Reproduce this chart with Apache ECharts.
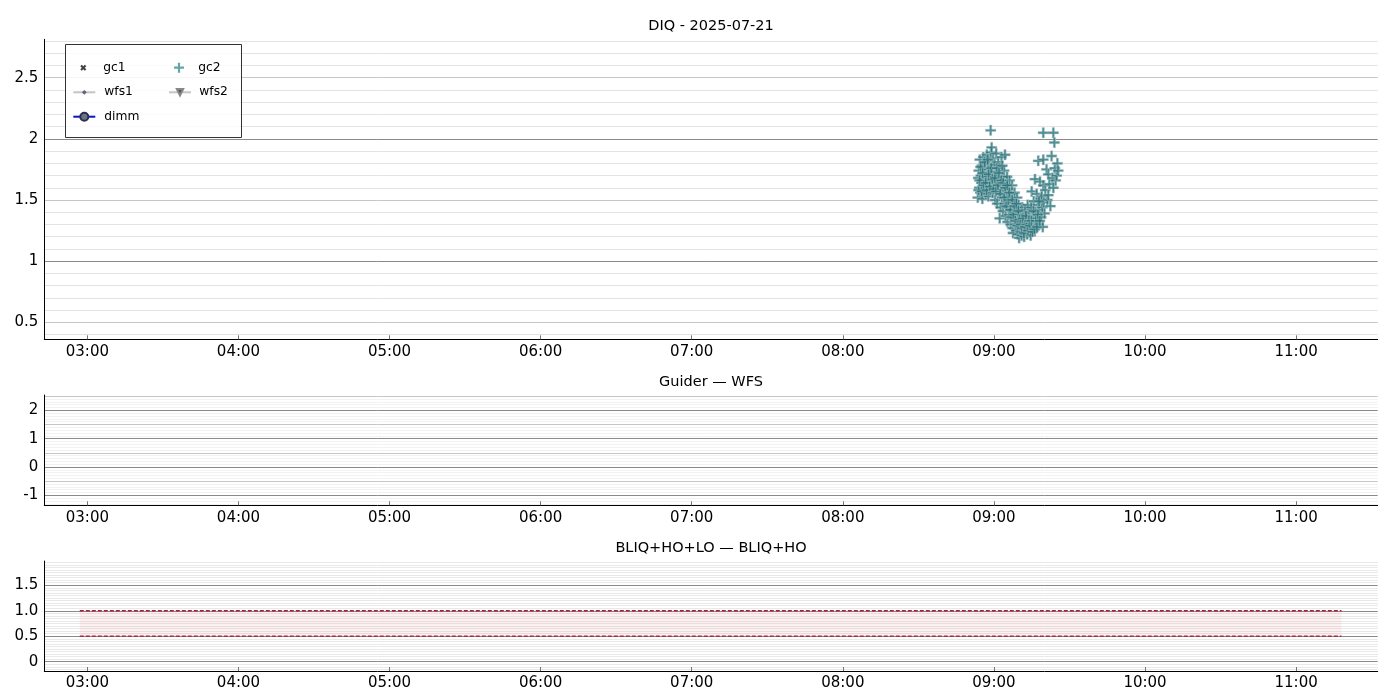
<!DOCTYPE html>
<html><head><meta charset="utf-8">
<script src="https://cdn.jsdelivr.net/npm/echarts@6/dist/echarts.min.js"></script>
<style>html,body{margin:0;padding:0;background:#fff}#c{width:1400px;height:700px}</style>
</head><body><div id="c"></div>
<script>
// ---------- data ----------
const titles = ['DIQ - 2025-07-21', 'Guider \u2014 WFS', 'BLIQ+HO+LO \u2014 BLIQ+HO'];
const legendNames = ['gc1', 'gc2', 'wfs1', 'wfs2', 'dimm'];
// x axis: minutes since 00:00 UTC
const hourTicks = [180, 240, 300, 360, 420, 480, 540, 600, 660];
const topYLabels = [0.5, 1, 1.5, 2, 2.5];
const midYLabels = [-1, 0, 1, 2];
const botYLabels = [0, 0.5, 1.0, 1.5];
// gc2 seeing samples: time (minutes since 00:00) and value (arcsec)
const gc2Time = [
 533.6,533.8,534.0,534.2,534.4,534.6,534.8,535.0,535.2,535.4,535.6,535.8,536.0,536.2,536.4,
 536.6,536.8,537.0,537.2,537.4,537.6,537.8,538.0,538.2,538.4,538.6,538.7,538.8,539.0,539.1,539.3,539.5,539.7,539.9,
 540.1,540.3,540.5,540.7,540.9,541.1,541.3,541.5,541.7,541.9,542.1,542.3,542.4,542.6,542.8,543.0,543.2,543.4,
 543.6,543.8,544.0,544.2,544.4,544.6,544.8,545.0,545.2,545.4,545.6,545.8,546.0,546.2,546.4,546.6,546.8,
 547.0,547.2,547.4,547.6,547.8,548.0,548.2,548.4,548.6,548.8,549.0,549.2,549.4,549.6,549.8,550.0,550.2,550.4,
 550.6,550.8,551.0,551.2,551.4,551.6,551.8,552.0,552.2,552.4,552.6,552.8,553.0,553.2,553.4,553.6,553.8,554.0,554.2,554.4,
 554.6,554.8,555.0,555.2,555.4,555.6,555.8,556.0,556.3,556.5,556.7,557.0,557.2,557.4,557.6,557.8,558.0,558.3,
 558.5,558.7,559.0,559.2,559.4,559.6,559.6,559.6,559.8,560.1,560.4,560.9,561.2,561.6,561.6,562.0,562.4,562.9,563.2,563.6,563.6,564.0,564.2,564.5,564.9,565.2,565.5,
 533.9,534.3,534.7,535.1,535.5,535.9,536.3,
 536.7,537.1,537.5,537.9,538.3,538.9,539.4,539.8,
 540.4,540.8,541.2,541.6,542.0,542.5,542.9,543.3,
 543.7,544.1,544.5,544.9,545.3,545.7,546.1,546.5,546.9,
 547.3,547.7,548.1,548.5,548.9,549.3,549.7,550.1,
 550.7,551.1,551.5,551.9,552.3,552.7,553.1,553.5,553.9,554.3,
 554.9,555.3,555.7,556.1,556.6,557.1,557.5,557.9,558.2
];
const gc2Value = [
 1.52,1.68,1.74,1.60,1.83,1.56,1.70,1.64,1.78,1.51,1.67,1.85,1.59,1.73,1.63,
 1.80,1.55,1.69,1.87,1.61,1.75,1.53,1.82,1.66,1.72,1.58,2.07,1.89,1.64,1.93,1.77,1.56,1.84,1.69,
 1.60,1.79,1.50,1.73,1.88,1.63,1.47,1.70,1.81,1.56,1.66,1.35,1.76,1.44,1.61,1.85,1.52,1.69,
 1.41,1.58,1.74,1.47,1.87,1.37,1.63,1.53,1.69,1.32,1.44,1.59,1.38,1.66,1.49,1.30,1.55,
 1.42,1.62,1.27,1.23,1.48,1.35,1.56,1.30,1.44,1.25,1.39,1.52,1.22,1.33,1.46,1.19,1.28,1.40,
 1.24,1.35,1.21,1.44,1.30,1.26,1.38,1.20,1.32,1.42,1.25,1.29,1.36,1.22,1.46,1.31,1.27,1.40,1.24,1.34,
 1.21,1.44,1.57,1.29,1.37,1.25,1.49,1.32,1.67,1.40,1.27,1.55,1.35,1.46,1.82,1.30,1.42,1.65,
 1.51,1.36,1.53,1.44,1.28,2.05,1.83,1.62,1.48,1.39,1.58,1.75,1.50,1.71,1.54,1.63,1.45,1.86,1.68,2.05,1.60,1.97,1.76,1.66,1.70,1.80,1.74,
 1.58,1.66,1.77,1.57,1.72,1.62,1.81,
 1.64,1.58,1.83,1.71,1.61,1.76,1.67,1.59,
 1.68,1.57,1.76,1.62,1.72,1.55,1.66,1.78,
 1.64,1.52,1.60,1.45,1.62,1.50,1.56,1.42,1.36,
 1.50,1.38,1.45,1.33,1.47,1.29,1.41,1.34,
 1.30,1.27,1.35,1.23,1.28,1.37,1.30,1.25,1.33,1.29,
 1.33,1.24,1.41,1.26,1.33,1.28,1.38,1.49,1.33
];
// BLIQ band (requirement range) on the bottom panel
const bandTime = [177, 678];
const bandLow = 0.5;
const bandHigh = 1.0;

// ---------- layout / style ----------
const FONT = '"DejaVu Sans", sans-serif';
const X_MIN = 162.9, X_MAX = 692.4;
const PLOT_L = 44.3, PLOT_W = 1333.4;
const grids = [
  {left: PLOT_L, top: 39.3, width: PLOT_W, height: 300},
  {left: PLOT_L, top: 395, width: PLOT_W, height: 110.3},
  {left: PLOT_L, top: 561, width: PLOT_W, height: 110}
];
const yRanges = [[0.361, 2.814], [-1.353, 2.54], [-0.183, 1.977]];

function range(a, b, step) {
  const out = [];
  const n = Math.round((b - a) / step);
  for (let i = 0; i <= n; i++) out.push(+(a + i * step).toFixed(4));
  return out;
}
function notIn(list, excl) {
  return list.filter(v => !excl.some(e => Math.abs(e - v) < 1e-6));
}
const DARK = '#8a8a8a', MID = '#c6c6c6', LIGHT = '#e3e3e3', VLIGHT = '#f2f2f2', BLIGHT = '#e9e9e9';
function lines(vals, color) {
  return vals.map(v => ({yAxis: v, lineStyle: {color: color, width: 1, type: 'solid'}}));
}
const topGrid = [].concat(
  lines(notIn(range(0.4, 2.8, 0.1), range(0.5, 2.5, 0.5)), LIGHT),
  lines([0.5, 1.5, 2.5], MID),
  lines([1, 2], DARK));
const midGrid = [].concat(
  lines(notIn(range(-1.3, 2.5, 0.1), range(-1.0, 2.5, 0.5)), VLIGHT),
  lines([-0.5, 0.5, 1.5, 2.5], MID),
  lines([-1, 0, 1, 2], DARK));
const botGrid = [].concat(
  lines(notIn(range(-0.15, 1.95, 0.05), range(0, 1.5, 0.5)), BLIGHT),
  lines([0, 0.5, 1.0, 1.5], DARK));

function pad(n) { return (n < 10 ? '0' : '') + n; }
function hhmm(v) { const h = Math.floor(v / 60), m = Math.round(v - h * 60); return pad(h) + ':' + pad(m); }

const xAxes = grids.map((g, i) => ({
  type: 'value', gridIndex: i, min: X_MIN, max: X_MAX,
  axisLine: {show: true, onZero: false, lineStyle: {color: '#000', width: 1}},
  axisTick: {show: true, inside: true, length: 4, customValues: hourTicks, lineStyle: {color: '#777'}},
  axisLabel: {customValues: hourTicks, formatter: hhmm, color: '#000', fontSize: 15, fontFamily: FONT, margin: 5},
  splitLine: {show: false}, z: 6
}));
const yLabelSets = [topYLabels, midYLabels, botYLabels];
const yFormatters = [
  v => String(v),
  v => String(v),
  v => (Math.abs(v) < 1e-9 ? '0' : v.toFixed(1))
];
const yAxes = grids.map((g, i) => ({
  type: 'value', gridIndex: i, min: yRanges[i][0], max: yRanges[i][1],
  axisLine: {show: true, onZero: false, lineStyle: {color: '#000', width: 1}},
  axisTick: {show: false},
  axisLabel: {customValues: yLabelSets[i], formatter: yFormatters[i], color: '#000', fontSize: 15, fontFamily: FONT, margin: 6},
  splitLine: {show: false}, z: 6
}));

function gridSeries(i, data) {
  return {
    type: 'line', xAxisIndex: i, yAxisIndex: i, data: [], silent: true, z: 1,
    markLine: {silent: true, z: 1, symbol: ['none', 'none'], label: {show: false}, animation: false,
      emphasis: {disabled: true}, data: data}
  };
}

const PLUS = 'path://M3.9,0H6.1V3.9H10V6.1H6.1V10H3.9V6.1H0V3.9H3.9Z';
const XMARK = 'path://M0,2.4L2.4,0L5,2.6L7.6,0L10,2.4L7.4,5L10,7.6L7.6,10L5,7.4L2.4,10L0,7.6L2.6,5Z';
const DTRI = 'path://M0,0L10,0L5,9Z';
const TEAL = '#26737a';

const gc2Data = gc2Time.map((t, k) => [t, gc2Value[k]]);

const series = [
  gridSeries(0, topGrid), gridSeries(1, midGrid), gridSeries(2, botGrid),
  {name: 'gc1', type: 'scatter', xAxisIndex: 0, yAxisIndex: 0, data: [], symbol: XMARK, symbolSize: 6,
    itemStyle: {color: '#111'}},
  {name: 'gc2', type: 'scatter', xAxisIndex: 0, yAxisIndex: 0, data: gc2Data, symbol: PLUS, symbolSize: 10.5,
    itemStyle: {color: TEAL, borderColor: 'rgba(190,205,208,0.9)', borderWidth: 0.6}, z: 3, animation: false},
  {name: 'wfs1', type: 'line', xAxisIndex: 0, yAxisIndex: 0, data: [], symbol: 'diamond',
    itemStyle: {color: '#5b6582'}, lineStyle: {color: '#c4c4c4', width: 1}},
  {name: 'wfs2', type: 'line', xAxisIndex: 0, yAxisIndex: 0, data: [], symbol: DTRI,
    itemStyle: {color: '#4c5263', borderColor: '#888', borderWidth: 0.5}, lineStyle: {color: '#c4c4c4', width: 1}},
  {name: 'dimm', type: 'line', xAxisIndex: 0, yAxisIndex: 0, data: [], symbol: 'circle',
    itemStyle: {color: '#6e7384', borderColor: '#2a3050', borderWidth: 0.8}, lineStyle: {color: '#0a14c8', width: 2}},
  // bottom band
  {type: 'line', xAxisIndex: 2, yAxisIndex: 2, silent: true, symbol: 'none', z: 3, animation: false,
    data: bandTime.map(t => [t, bandHigh]), lineStyle: {color: '#a81e36', width: 1.3, type: [4, 2]},
    markArea: {silent: true, z: 2, itemStyle: {color: 'rgba(235,90,100,0.09)'},
      data: [[{xAxis: bandTime[0], yAxis: bandLow}, {xAxis: bandTime[1], yAxis: bandHigh}]]}},
  {type: 'line', xAxisIndex: 2, yAxisIndex: 2, silent: true, symbol: 'none', z: 3, animation: false,
    data: bandTime.map(t => [t, bandLow]), lineStyle: {color: '#a81e36', width: 1.3, type: [4, 2]}}
];

// legends: two columns (icon centre x, text start x per column)
const rowY = [67.7, 92.3, 116.7];
const colX = [83.3, 179];
const colText = [103.3, 198.3];
const legendSpec = [
  {name: 'gc1', col: 0, row: 0, w: 6, h: 6},
  {name: 'gc2', col: 1, row: 0, w: 10, h: 10, style: {color: '#3f8d92', borderWidth: 0}},
  {name: 'wfs1', col: 0, row: 1, w: 22, h: 6},
  {name: 'wfs2', col: 1, row: 1, w: 22, h: 8},
  {name: 'dimm', col: 0, row: 2, w: 22, h: 10}
];
const LH = 14;
const legends = legendSpec.map(s => {
  const left = colX[s.col] - s.w / 2;
  return {
    data: [s.style ? {name: s.name, itemStyle: s.style} : s.name], selectedMode: false, orient: 'vertical', padding: 0,
    left: left, top: rowY[s.row] - Math.max(LH, s.h) / 2,
    itemWidth: s.w, itemHeight: s.h, z: 10,
    textStyle: {color: '#000', fontSize: 12.3, fontFamily: FONT, lineHeight: LH,
      padding: [0, 0, 0, colText[s.col] - (left + s.w + 5)]}
  };
});

const titleY = [26, 382, 548];
const graphic = titles.map((t, i) => ({
  type: 'text', x: PLOT_L + PLOT_W / 2, y: titleY[i], z: 10,
  style: {text: t, fill: '#000', font: '14.5px ' + FONT, align: 'center', verticalAlign: 'middle',
    textAlign: 'center', textVerticalAlign: 'middle'}
}));
graphic.push({type: 'rect', x: 65.5, y: 44.5, z: 8, zlevel: 0,
  shape: {width: 176, height: 93},
  style: {fill: 'rgba(255,255,255,0.82)', stroke: '#333', lineWidth: 1}});

const chart = echarts.init(document.getElementById('c'), null, {renderer: 'canvas'});
chart.setOption({
  animation: false,
  backgroundColor: '#fff',
  textStyle: {fontFamily: FONT},
  grid: grids,
  xAxis: xAxes,
  yAxis: yAxes,
  legend: legends,
  graphic: {elements: graphic},
  series: series
});
</script></body></html>
